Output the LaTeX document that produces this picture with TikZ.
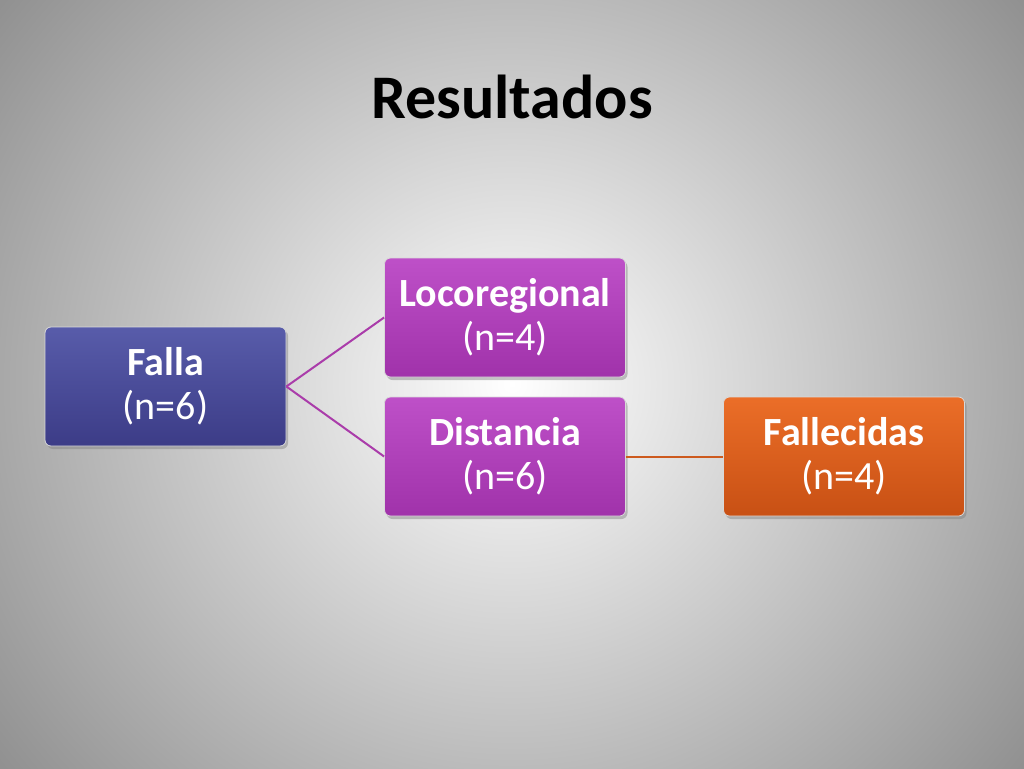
\documentclass[tikz,border=0pt]{standalone}
\usepackage{fontspec}
\setmainfont{Carlito}
\usetikzlibrary{shadows}
\begin{document}
\begin{tikzpicture}[x=1pt,y=-1pt,
 box/.style={rounded corners=6pt,minimum width=241pt,minimum height=119pt,align=center,
   text=white,font=\fontsize{40}{44}\selectfont,draw=white!70!gray,line width=0.8pt,
   drop shadow={shadow xshift=2pt,shadow yshift=-3pt,opacity=0.45}},
 conn/.style={line width=2pt}]
\useasboundingbox (0,0) rectangle (1024,768);
\begin{scope}
\clip (0,0) rectangle (1024,768);
\shade[inner color=white,outer color=gray!95,shading=radial] (-200,-300) rectangle (1224,1068);
\end{scope}
\node[font=\bfseries\fontsize{62}{66}\selectfont] (t) at (512,97) {Resultados};
\node[box,top color={rgb,255:red,88;green,92;blue,170},bottom color={rgb,255:red,60;green,60;blue,135}] (f) at (165.5,386.5) {\textbf{Falla}\\(n=6)};
\node[box,top color={rgb,255:red,190;green,80;blue,200},bottom color={rgb,255:red,160;green,50;blue,170}] (l) at (505,317.5) {\textbf{Locoregional}\\(n=4)};
\node[box,top color={rgb,255:red,190;green,80;blue,200},bottom color={rgb,255:red,160;green,50;blue,170}] (d) at (505,456.5) {\textbf{Distancia}\\(n=6)};
\node[box,top color={rgb,255:red,235;green,110;blue,40},bottom color={rgb,255:red,200;green,80;blue,20}] (fa) at (844,456.5) {\textbf{Fallecidas}\\(n=4)};
\draw[conn,draw={rgb,255:red,170;green,60;blue,170}] (f.east) -- (l.west);
\draw[conn,draw={rgb,255:red,170;green,60;blue,170}] (f.east) -- (d.west);
\draw[conn,draw={rgb,255:red,205;green,90;blue,30}] (d.east) -- (fa.west);
\end{tikzpicture}
\end{document}
